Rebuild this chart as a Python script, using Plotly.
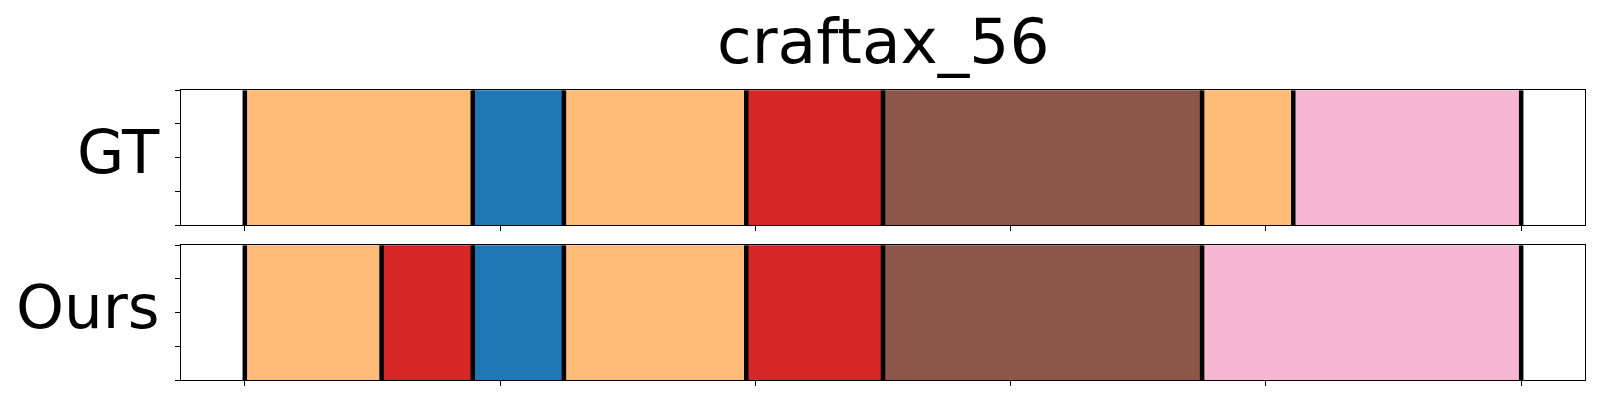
import numpy as np
import plotly.graph_objects as go

title = "craftax_56"
row_labels = ["GT", "Ours"]

# segment lengths (in steps, out of 28) and their action colours
gt_lengths = [5, 2, 4, 3, 7, 2, 5]
gt_colors = ["#ffbb78", "#1f77b4", "#ffbb78", "#d62728", "#8c564b", "#ffbb78", "#f7b6d2"]
ours_lengths = [3, 2, 2, 4, 3, 7, 7]
ours_colors = ["#ffbb78", "#d62728", "#1f77b4", "#ffbb78", "#d62728", "#8c564b", "#f7b6d2"]

xticks = [0, 0.2, 0.4, 0.6, 0.8, 1.0]
yticks = [0, 0.25, 0.5, 0.75, 1.0]

W, H = 1600, 400
x_dom = [181 / W, 1585 / W]
y_doms = [[1 - 225 / H, 1 - 90.3 / H], [1 - 380 / H, 1 - 245.3 / H]]

fig = go.Figure()
rows = [(gt_lengths, gt_colors), (ours_lengths, ours_colors)]
for i, (lengths, colors) in enumerate(rows):
    total = float(sum(lengths))
    starts = np.concatenate([[0], np.cumsum(lengths)[:-1]]) / total
    widths = np.array(lengths) / total
    xa = "x" if i == 0 else "x2"
    ya = "y" if i == 0 else "y2"
    fig.add_trace(go.Bar(
        orientation="h", base=starts, x=widths, y=[0.5] * len(lengths), width=1.0,
        marker=dict(color=colors, line=dict(color=colors, width=0.8)),
        xaxis=xa, yaxis=ya, showlegend=False, hoverinfo="skip"))
    bounds = np.concatenate([[0], np.cumsum(lengths)]) / total
    lx, ly = [], []
    for b in bounds:
        lx += [b, b, None]
        ly += [0, 1, None]
    fig.add_trace(go.Scatter(x=lx, y=ly, mode="lines", line=dict(color="black", width=4.5),
                             xaxis=xa, yaxis=ya, showlegend=False, hoverinfo="skip"))

axis_common = dict(showline=True, linecolor="black", linewidth=1.3, mirror=True,
                   ticks="outside", ticklen=5, tickcolor="black", tickwidth=1.2,
                   showticklabels=False, showgrid=False, zeroline=False)
fig.update_layout(
    width=W, height=H, margin=dict(l=0, r=0, t=0, b=0),
    plot_bgcolor="white", paper_bgcolor="white", barmode="overlay",
    xaxis=dict(domain=x_dom, range=[-0.05, 1.05], tickvals=xticks, anchor="y", **axis_common),
    yaxis=dict(domain=y_doms[0], range=[0, 1], tickvals=yticks, anchor="x", **axis_common),
    xaxis2=dict(domain=x_dom, range=[-0.05, 1.05], tickvals=xticks, anchor="y2", **axis_common),
    yaxis2=dict(domain=y_doms[1], range=[0, 1], tickvals=yticks, anchor="x2", **axis_common),
    font=dict(family="DejaVu Sans", color="black"),
    hovermode=False,
)

fig.add_annotation(text=title, xref="paper", yref="paper", x=883 / W, y=1 - 41 / H,
                   xanchor="center", yanchor="middle", showarrow=False,
                   font=dict(size=63, family="DejaVu Sans", color="black"))
for i, lab in enumerate(row_labels):
    yc = (y_doms[i][0] + y_doms[i][1]) / 2 + 6 / H
    fig.add_annotation(text=lab, xref="paper", yref="paper", x=162 / W, y=yc,
                       xanchor="right", yanchor="middle", showarrow=False,
                       font=dict(size=61, family="DejaVu Sans", color="black"))

fig.write_html("out.html", config={"displayModeBar": False},
               post_script="document.body.style.margin='0';document.body.style.overflow='hidden';")
